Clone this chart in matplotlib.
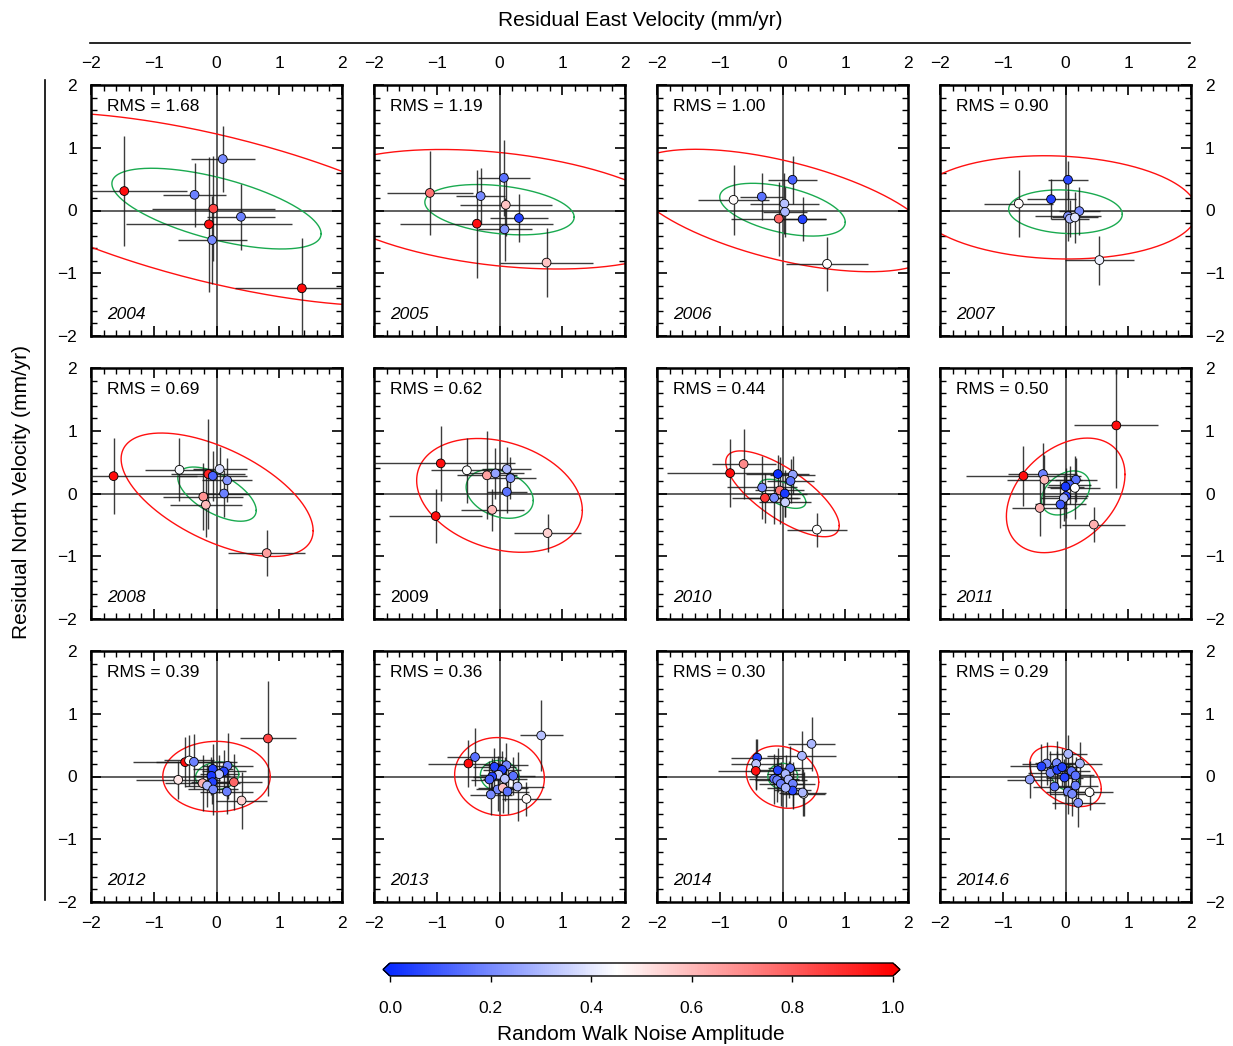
import numpy as np
import matplotlib
matplotlib.use("Agg")
import matplotlib.pyplot as plt
from matplotlib.colors import LinearSegmentedColormap, Normalize
from matplotlib.cm import ScalarMappable
from matplotlib.ticker import MultipleLocator, FixedLocator
from matplotlib.lines import Line2D

plt.rcParams['font.family'] = ['Liberation Sans', 'DejaVu Sans']

# ---------------- data ----------------
years = ['2004', '2005', '2006', '2007', '2008', '2009',
         '2010', '2011', '2012', '2013', '2014', '2014.6']
rms = [1.68, 1.19, 1.00, 0.90, 0.69, 0.62, 0.44, 0.50, 0.39, 0.36, 0.30, 0.29]

x_2004 = [-1.47, 0.10, -0.35, -0.05, 0.39, -0.12, -0.07, 1.36]
y_2004 = [0.31, 0.82, 0.25, 0.03, -0.10, -0.22, -0.47, -1.24]
ex_2004 = [1.0, 0.51, 0.50, 0.98, 0.54, 1.33, 0.55, 1.07]
ey_2004 = [0.87, 0.53, 0.51, 0.84, 0.53, 1.08, 0.70, 0.80]
rw_2004 = [0.97, 0.20, 0.18, 0.85, 0.18, 0.97, 0.20, 0.97]

x_2005 = [-1.11, 0.07, -0.30, 0.10, 0.31, -0.36, 0.08, 0.75]
y_2005 = [0.28, 0.52, 0.23, 0.09, -0.12, -0.21, -0.30, -0.83]
ex_2005 = [0.68, 0.42, 0.39, 0.73, 0.46, 1.22, 0.43, 0.74]
ey_2005 = [0.67, 0.60, 0.45, 0.50, 0.38, 0.86, 0.50, 0.55]
rw_2005 = [0.75, 0.15, 0.20, 0.58, 0.05, 0.97, 0.22, 0.58]

x_2006 = [-0.78, -0.33, 0.16, 0.03, 0.04, -0.06, 0.32, 0.71]
y_2006 = [0.17, 0.22, 0.49, 0.11, -0.02, -0.13, -0.14, -0.85]
ex_2006 = [0.56, 0.34, 0.39, 0.55, 0.35, 0.76, 0.37, 0.66]
ey_2006 = [0.56, 0.37, 0.38, 0.49, 0.40, 0.59, 0.35, 0.43]
rw_2006 = [0.46, 0.15, 0.12, 0.32, 0.30, 0.78, 0.05, 0.45]

x_2007 = [-0.745, -0.23, 0.04, 0.22, 0.04, 0.07, 0.15, 0.54]
y_2007 = [0.11, 0.18, 0.49, -0.01, -0.09, -0.13, -0.11, -0.79]
ex_2007 = [0.55, 0.39, 0.32, 0.33, 0.53, 0.30, 0.37, 0.55]
ey_2007 = [0.53, 0.32, 0.30, 0.38, 0.40, 0.30, 0.40, 0.39]
rw_2007 = [0.46, 0.05, 0.06, 0.20, 0.22, 0.30, 0.40, 0.42]

x_2008 = [-1.64, -0.59, -0.13, -0.06, 0.05, 0.17, 0.12, -0.21, -0.17, 0.80]
y_2008 = [0.277, 0.378, 0.31, 0.28, 0.39, 0.21, 0.0, -0.05, -0.18, -0.95]
ex_2008 = [1.33, 0.55, 0.59, 0.54, 0.43, 0.40, 0.39, 0.64, 0.57, 0.61]
ey_2008 = [0.60, 0.50, 0.88, 0.40, 0.35, 0.35, 0.37, 0.53, 0.52, 0.37]
rw_2008 = [0.97, 0.44, 0.92, 0.12, 0.38, 0.22, 0.18, 0.68, 0.60, 0.66]

x_2009 = [-0.936, -0.52, -0.20, -0.064, 0.117, 0.175, 0.117, -0.117, -1.016, 0.766]
y_2009 = [0.48, 0.37, 0.29, 0.32, 0.39, 0.245, 0.027, -0.26, -0.36, -0.63]
ex_2009 = [1.19, 0.57, 0.48, 0.45, 0.39, 0.40, 0.32, 0.50, 0.74, 0.54]
ey_2009 = [0.60, 0.52, 0.70, 0.40, 0.35, 0.33, 0.33, 0.33, 0.43, 0.31]
rw_2009 = [0.97, 0.45, 0.65, 0.25, 0.30, 0.22, 0.15, 0.60, 0.97, 0.55]

x_2010 = [-0.835, -0.62, -0.074, 0.165, 0.128, -0.325, -0.043, 0.037, -0.28, -0.133, 0.043, 0.548]
y_2010 = [0.325, 0.47, 0.31, 0.30, 0.20, 0.096, 0.048, 0.0, -0.07, -0.07, -0.14, -0.575]
ex_2010 = [1.0, 0.51, 0.50, 0.36, 0.37, 0.56, 0.39, 0.35, 0.52, 0.41, 0.41, 0.48]
ey_2010 = [0.54, 0.56, 0.30, 0.30, 0.35, 0.50, 0.53, 0.37, 0.40, 0.42, 0.24, 0.27]
rw_2010 = [0.97, 0.70, 0.0, 0.25, 0.15, 0.20, 0.75, 0.03, 0.88, 0.20, 0.35, 0.45]

x_2011 = [0.81, -0.67, -0.36, -0.335, 0.165, 0.064, 0.0, 0.15, 0.01, -0.027, -0.08, -0.41, 0.452]
y_2011 = [1.085, 0.28, 0.31, 0.22, 0.22, 0.14, 0.11, 0.09, -0.04, -0.075, -0.175, -0.23, -0.495]
ex_2011 = [0.67, 0.915, 0.55, 0.60, 0.33, 0.35, 0.30, 0.40, 0.35, 0.37, 0.40, 0.44, 0.50]
ey_2011 = [1.0, 0.48, 0.50, 0.40, 0.35, 0.30, 0.30, 0.50, 0.35, 0.37, 0.37, 0.45, 0.28]
rw_2011 = [0.97, 0.97, 0.18, 0.60, 0.15, 0.12, 0.03, 0.45, 0.05, 0.30, 0.10, 0.62, 0.62]

x_2012 = [0.82, -0.5, -0.436, -0.36, -0.06, 0.176, 0.117, 0.043, -0.08, -0.61, -0.223, -0.064, 0.277, -0.15, -0.053, 0.165, 0.4]
y_2012 = [0.606, 0.229, 0.255, 0.234, 0.12, 0.17, 0.08, 0.037, 0.01, -0.053, -0.106, -0.09, -0.09, -0.144, -0.207, -0.24, -0.383]
ex_2012 = [0.45, 0.83, 0.40, 0.60, 0.32, 0.40, 0.35, 0.30, 0.30, 0.67, 0.60, 0.35, 0.45, 0.35, 0.40, 0.42, 0.41]
ey_2012 = [0.91, 0.40, 0.40, 0.44, 0.39, 0.53, 0.35, 0.30, 0.30, 0.30, 0.45, 0.35, 0.45, 0.35, 0.40, 0.36, 0.46]
rw_2012 = [0.85, 0.97, 0.45, 0.18, 0.05, 0.18, 0.05, 0.33, 0.03, 0.50, 0.62, 0.05, 0.78, 0.30, 0.20, 0.18, 0.55]

x_2013 = [0.665, -0.39, -0.495, -0.08, 0.11, 0.043, -0.016, 0.218, -0.117, -0.16, 0.085, -0.03, 0.053, 0.128, 0.287, -0.138, 0.43]
y_2013 = [0.654, 0.31, 0.207, 0.154, 0.18, 0.106, 0.027, 0.01, 0.0, -0.048, -0.037, -0.207, -0.18, -0.24, -0.16, -0.287, -0.356]
ex_2013 = [0.34, 0.45, 0.65, 0.35, 0.35, 0.30, 0.30, 0.35, 0.30, 0.30, 0.35, 0.35, 0.40, 0.35, 0.42, 0.33, 0.39]
ey_2013 = [0.56, 0.46, 0.37, 0.30, 0.35, 0.30, 0.30, 0.30, 0.30, 0.30, 0.35, 0.35, 0.40, 0.35, 0.55, 0.33, 0.27]
rw_2013 = [0.32, 0.15, 0.98, 0.05, 0.20, 0.05, 0.33, 0.15, 0.05, 0.12, 0.33, 0.20, 0.58, 0.15, 0.32, 0.20, 0.46]

x_2014 = [0.463, 0.31, -0.404, -0.42, -0.426, -0.074, 0.122, 0.048, -0.133, -0.085, -0.027, 0.096, 0.165, 0.16, 0.335, 0.32, 0.05]
y_2014 = [0.52, 0.33, 0.30, 0.20, 0.09, 0.10, 0.133, 0.04, -0.037, -0.058, -0.117, -0.048, -0.117, -0.223, -0.276, -0.255, -0.18]
ex_2014 = [0.38, 0.55, 0.41, 0.40, 0.60, 0.35, 0.35, 0.30, 0.40, 0.35, 0.35, 0.30, 0.35, 0.30, 0.35, 0.37, 0.30]
ey_2014 = [0.43, 0.40, 0.30, 0.40, 0.30, 0.35, 0.35, 0.30, 0.40, 0.35, 0.35, 0.30, 0.35, 0.30, 0.35, 0.37, 0.30]
rw_2014 = [0.30, 0.30, 0.05, 0.33, 0.97, 0.05, 0.15, 0.30, 0.15, 0.18, 0.18, 0.30, 0.18, 0.06, 0.45, 0.30, 0.30]

x_20146 = [0.043, -0.3, -0.14, 0.23, -0.383, -0.24, -0.133, -0.053, 0.096, -0.016, 0.16, -0.57, -0.175, 0.037, 0.106, 0.16, 0.383, 0.202]
y_20146 = [0.36, 0.207, 0.213, 0.207, 0.16, 0.058, 0.106, 0.149, 0.085, -0.016, 0.016, -0.048, -0.16, -0.24, -0.277, -0.144, -0.25, -0.42]
ex_20146 = [0.30, 0.40, 0.35, 0.35, 0.50, 0.35, 0.30, 0.30, 0.30, 0.30, 0.30, 0.37, 0.35, 0.35, 0.35, 0.35, 0.38, 0.42]
ey_20146 = [0.30, 0.35, 0.35, 0.35, 0.35, 0.35, 0.30, 0.30, 0.30, 0.30, 0.30, 0.30, 0.35, 0.35, 0.35, 0.35, 0.28, 0.38]
rw_20146 = [0.30, 0.20, 0.20, 0.30, 0.05, 0.20, 0.05, 0.05, 0.15, 0.05, 0.15, 0.25, 0.15, 0.20, 0.20, 0.18, 0.45, 0.22]

xs = [x_2004, x_2005, x_2006, x_2007, x_2008, x_2009, x_2010, x_2011, x_2012, x_2013, x_2014, x_20146]
ys = [y_2004, y_2005, y_2006, y_2007, y_2008, y_2009, y_2010, y_2011, y_2012, y_2013, y_2014, y_20146]
exs = [ex_2004, ex_2005, ex_2006, ex_2007, ex_2008, ex_2009, ex_2010, ex_2011, ex_2012, ex_2013, ex_2014, ex_20146]
eys = [ey_2004, ey_2005, ey_2006, ey_2007, ey_2008, ey_2009, ey_2010, ey_2011, ey_2012, ey_2013, ey_2014, ey_20146]
rws = [rw_2004, rw_2005, rw_2006, rw_2007, rw_2008, rw_2009, rw_2010, rw_2011, rw_2012, rw_2013, rw_2014, rw_20146]

# ellipses: centre, horizontal half-extent X, conjugate-diameter slope m, vertical half-chord H
red_cx = [0, 0, 0, -0.15, 0.01, 0, 0, 0.003, 0, 0, 0, 0]
red_cy = [0.02, 0.02, 0.0, 0.05, -0.02, -0.03, -0.005, -0.03, 0, 0, -0.01, 0]
red_X = [4.26, 2.97, 2.45, 2.25, 1.53, 1.32, 0.904, 0.945, 0.856, 0.715, 0.577, 0.57]
red_m = [-0.228, -0.1, -0.225, -0.03, -0.374, -0.18, -0.56, 0.353, 0.0, -0.04, -0.138, -0.35]
red_H = [1.2, 0.905, 0.805, 0.82, 0.80, 0.875, 0.46, 0.85, 0.56, 0.62, 0.49, 0.436]

green_cx = [0, 0, 0, 0, 0.008, 0.003, 0, 0.003, 0.01, 0.005, 0.003, -0.008]
green_cy = [0.03, 0.013, 0.013, -0.02, -0.01, -0.005, -0.005, 0.009, 0.01, 0.005, 0.005, -0.005]
green_X = [1.667, 1.19, 1.0, 0.905, 0.625, 0.535, 0.372, 0.386, 0.345, 0.31, 0.237, 0.232]
green_m = [-0.239, -0.1, -0.2, -0.044, -0.416, -0.2, -0.357, 0.31, 0.07, -0.06, 0.0, -0.32]
green_H = [0.505, 0.383, 0.37, 0.346, 0.345, 0.375, 0.19, 0.33, 0.22, 0.25, 0.205, 0.21]

cbar_ticks = [0.0, 0.2, 0.4, 0.6, 0.8, 1.0]

# ---------------- style ----------------
W, H = 1233, 1046
fig = plt.figure(figsize=(W / 100, H / 100), dpi=100)
cmap = LinearSegmentedColormap.from_list(
    'rw', [(0.0, '#0a2cff'), (0.45, '#ffffff'), (1.0, '#ff0000')])
cmap.set_under('#0a2cff')
cmap.set_over('#ff0000')
norm = Normalize(0, 1)

col_left = [91, 374, 657, 940]
row_top = [85, 368, 651]
size = 251
fs = 12.5
t = np.linspace(0, 2 * np.pi, 400)

for i in range(12):
    r, c = divmod(i, 4)
    L, T = col_left[c], row_top[r]
    ax = fig.add_axes([L / W, 1 - (T + size) / H, size / W, size / H])
    ax.set_xlim(-2, 2)
    ax.set_ylim(-2, 2)
    ax.xaxis.set_major_locator(FixedLocator([-2, -1, 0, 1, 2]))
    ax.yaxis.set_major_locator(FixedLocator([-2, -1, 0, 1, 2]))
    ax.xaxis.set_minor_locator(MultipleLocator(0.2))
    ax.yaxis.set_minor_locator(MultipleLocator(0.2))
    ax.tick_params(which='both', direction='in', top=True, right=True,
                   bottom=True, left=True,
                   labelbottom=(r == 2), labeltop=(r == 0),
                   labelleft=(c == 0), labelright=(c == 3),
                   labelsize=fs, pad=10)
    ax.tick_params(which='major', length=7, width=1.2)
    ax.tick_params(which='minor', length=4, width=1.0)
    for sp in ax.spines.values():
        sp.set_linewidth(1.8)

    ax.axhline(0, color='#444444', lw=1.2, zorder=1)
    ax.axvline(0, color='#444444', lw=1.2, zorder=1)

    # ellipses
    rx = red_cx[i] + red_X[i] * np.cos(t)
    ry = red_cy[i] + red_m[i] * red_X[i] * np.cos(t) + red_H[i] * np.sin(t)
    ax.plot(rx, ry, color='#ff1010', lw=1.0, zorder=2)
    gx = green_cx[i] + green_X[i] * np.cos(t)
    gy = green_cy[i] + green_m[i] * green_X[i] * np.cos(t) + green_H[i] * np.sin(t)
    ax.plot(gx, gy, color='#1aaa50', lw=1.0, zorder=2)

    ax.errorbar(xs[i], ys[i], xerr=exs[i], yerr=eys[i], fmt='none',
                ecolor='#1a1a1a', elinewidth=1.0, capsize=0, alpha=0.85, zorder=3)
    ax.scatter(xs[i], ys[i], c=rws[i], cmap=cmap, norm=norm, s=40,
               edgecolors='k', linewidths=0.6, zorder=4)

    ax.text(-1.75, 1.65, f'RMS = {rms[i]:.2f}', ha='left', va='center', fontsize=fs)
    ax.text(-1.75, -1.65, years[i], ha='left', va='center', fontsize=fs,
            style=('normal' if years[i] == '2009' else 'italic'))

# outer labels and lines
fig.text(640 / W, 1 - 20 / H, 'Residual East Velocity (mm/yr)', ha='center',
         va='center', fontsize=15)
fig.add_artist(Line2D([90 / W, 1190 / W], [1 - 43 / H, 1 - 43 / H], color='k', lw=1.2))
fig.text(22 / W, 1 - 492 / H, 'Residual North Velocity (mm/yr)', ha='center',
         va='center', rotation=90, fontsize=15)
fig.add_artist(Line2D([45 / W, 45 / W], [1 - 80 / H, 1 - 900 / H], color='k', lw=1.2))

# colorbar
cax = fig.add_axes([383 / W, 1 - 976 / H, 517 / W, 13 / H])
cb = fig.colorbar(ScalarMappable(norm=norm, cmap=cmap), cax=cax,
                  orientation='horizontal', extend='both', extendfrac=0.014)
cb.set_ticks(cbar_ticks)
cb.set_ticklabels([f'{v:.1f}' for v in cbar_ticks])
cax.tick_params(labelsize=fs, length=4, width=1.0, pad=14)
cb.outline.set_linewidth(1.0)
fig.text(641 / W, 1 - 1035 / H, 'Random Walk Noise Amplitude', ha='center',
         va='center', fontsize=15)

fig.savefig('out.png', dpi=100)
